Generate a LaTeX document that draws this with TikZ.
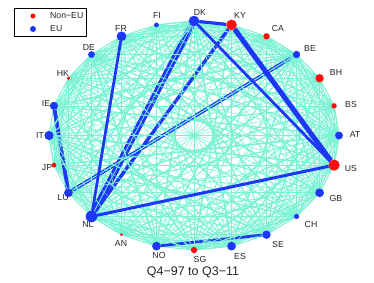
\documentclass[tikz,border=0pt]{standalone}
\usepackage{fontspec}
\setmainfont{Liberation Sans}
\pgfdeclarelayer{bg}
\pgfsetlayers{bg,main}
\definecolor{web}{RGB}{122,242,212}
\definecolor{eu}{RGB}{30,55,245}
\definecolor{noneu}{RGB}{250,15,15}
\begin{document}
\begin{tikzpicture}[x=1pt,y=-1pt,
  dot/.style={circle,inner sep=0pt,outer sep=0pt,draw=none},
  lab/.style={font=\fontsize{8.7}{10}\selectfont,text=black!85,inner sep=0pt},
  webline/.style={draw=web},
  link/.style={draw=eu}]
\useasboundingbox (0,0) rectangle (374,282);
% country nodes on the ellipse
\foreach \name/\k/\r/\c in {AT/0/4/eu, BS/1/2.7/noneu, BH/2/4.2/noneu, BE/3/3.7/eu,
  CA/4/3.2/noneu, KY/5/5.3/noneu, DK/6/5.3/eu, FI/7/2.4/eu, FR/8/4.9/eu, DE/9/3.4/eu,
  HK/10/1.9/noneu, IE/11/4.1/eu, IT/12/4.6/eu, JP/13/2.4/noneu, LU/14/4.4/eu,
  NL/15/5.8/eu, AN/16/1.5/noneu, NO/17/4.4/eu, SG/18/3.2/noneu, ES/19/4.4/eu,
  SE/20/4.2/eu, CH/21/2.6/eu, GB/22/4.4/eu, US/23/5.6/noneu}
  \node[dot,fill=\c,minimum size={2*\r*1pt},alias=n\k] (\name)
    at ({194+145*cos(15*\k)},{135.5-114.5*sin(15*\k)}) {};
% labels
\node[lab] (lAT) at (355,135) {AT};
\node[lab] (lBS) at (351,104) {BS};
\node[lab] (lBH) at (336,73) {BH};
\node[lab] (lBE) at (310,49) {BE};
\node[lab] (lCA) at (278,29) {CA};
\node[lab] (lKY) at (240,16) {KY};
\node[lab] (lDK) at (200,13) {DK};
\node[lab] (lFI) at (157,16) {FI};
\node[lab] (lFR) at (121,29) {FR};
\node[lab] (lDE) at (89,48) {DE};
\node[lab] (lHK) at (63,74) {HK};
\node[lab] (lIE) at (46,104) {IE};
\node[lab] (lIT) at (40,136) {IT};
\node[lab] (lJP) at (47,168) {JP};
\node[lab] (lLU) at (63,198) {LU};
\node[lab] (lNL) at (88,224) {NL};
\node[lab] (lAN) at (121,243) {AN};
\node[lab] (lNO) at (159,255) {NO};
\node[lab] (lSG) at (200,259) {SG};
\node[lab] (lES) at (240,256) {ES};
\node[lab] (lSE) at (278,244) {SE};
\node[lab] (lCH) at (311,224) {CH};
\node[lab] (lGB) at (336,198) {GB};
\node[lab] (lUS) at (351,168) {US};
% connectors
\begin{pgfonlayer}{bg}
  % full web, bottom part
  \foreach \i in {0,...,22} {
    \pgfmathtruncatemacro{\s}{\i+1}
    \foreach \j in {\s,...,23} {
      \pgfmathsetmacro{\w}{0.25+0.25*mod(\i*7+\j*13,5)}
      \draw[webline,line width=\w pt] (n\i) -- (n\j);
    }
  }
  % heavy links under part of the web
  \draw[link,line width=6.5pt] (DK) -- (NL);
  \draw[link,line width=3.4pt] (KY) -- (NL);
  \draw[link,line width=3.6pt] (BE) -- (LU);
  \draw[link,line width=3.8pt] (IE) -- (LU);
  \draw[link,line width=2.8pt] (NO) -- (SE);
  % part of the web drawn again on top
  \foreach \i in {0,...,22} {
    \pgfmathtruncatemacro{\s}{\i+1}
    \foreach \j in {\s,...,23} {
      \pgfmathtruncatemacro{\t}{mod(\i*5+\j*3,3)}
      \ifnum\t=0
        \pgfmathsetmacro{\w}{0.25+0.25*mod(\i*7+\j*13,5)}
        \draw[webline,line width=\w pt] (n\i) -- (n\j);
      \fi
    }
  }
  % heavy links on top
  \draw[link,line width=2.8pt] (FR) -- (NL);
  \draw[link,line width=3.2pt] (DK) -- (KY);
  \draw[link,line width=2.8pt] (DK) -- (US);
  \draw[link,line width=5pt] (KY) -- (US);
  \draw[link,line width=3pt] (NL) -- (US);
\end{pgfonlayer}
% legend
\node[draw=black,fill=white,line width=0.7pt,minimum width=72pt,minimum height=28pt,
  anchor=north west,inner sep=0pt] (legend) at (14,8) {};
\node[dot,fill=noneu,minimum size=5pt] (lgred) at (33,16) {};
\node[dot,fill=eu,minimum size=6pt] (lgblue) at (33,29) {};
\node[lab,anchor=west] (lgt1) at (50,16) {Non−EU};
\node[lab,anchor=west] (lgt2) at (50,29) {EU};
% title
\node[font=\fontsize{12.5}{15}\selectfont,text=black!85,inner sep=0pt] (title) at (193,272) {Q4−97 to Q3−11};
\end{tikzpicture}
\end{document}
